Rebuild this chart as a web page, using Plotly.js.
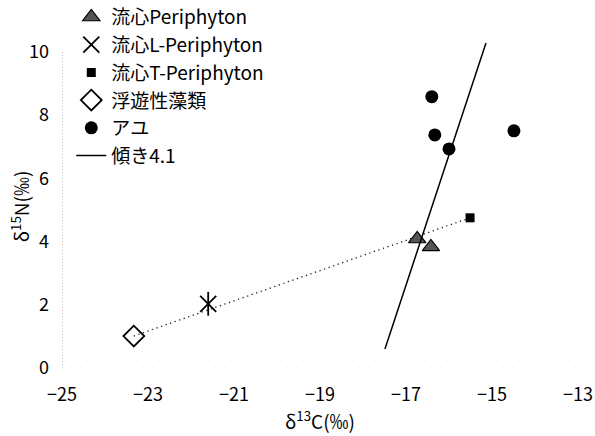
<!DOCTYPE html>
<html><head><meta charset="utf-8">
<script src="https://cdn.plot.ly/plotly-3.0.1.min.js"></script>
<style>body{margin:0;background:#fff}#c{width:595px;height:436px}</style>
</head><body><div id="c"></div>
<script>
const triX=[-16.74,-16.42], triY=[4.08,3.83];
const starX=[-21.6], starY=[2.03];
const sqX=[-15.51], sqY=[4.75];
const diaX=[-23.33], diaY=[1.01];
const ayuX=[-16.40,-16.33,-16.0,-14.49], ayuY=[8.58,7.37,6.93,7.5];
const slopeX=[-17.49,-15.14], slopeY=[0.6,10.28];
const dotX=[-23.33,-15.51], dotY=[1.01,4.75];
const names=['流心Periphyton','流心L-Periphyton','流心T-Periphyton','浮遊性藻類','アユ','傾き4.1'];
const xTicks=[-25,-23,-21,-19,-17,-15,-13];
const yTicks=[0,2,4,6,8,10];
const yTitle='δ<sup>15</sup>N(‰)';
const xTitle='δ<sup>13</sup>C(‰)';
const F='"Noto Sans CJK JP",sans-serif';
const LF='"Noto Sans CJK JP",sans-serif';
const traces=[
 {x:dotX,y:dotY,mode:'lines',line:{color:'#222',width:1.3,dash:'1.3px,3.5px'},showlegend:false,hoverinfo:'skip'},
 {x:triX,y:triY,mode:'markers',name:names[0],marker:{symbol:'triangle-up',size:15,color:'#555',line:{color:'#000',width:1.2}}},
 {x:starX,y:starY,mode:'markers',name:names[1],marker:{symbol:'x-thin-open',size:16,color:'#000',line:{color:'#000',width:1.8}}},
 {x:starX,y:starY,mode:'markers',showlegend:false,marker:{symbol:'line-ns-open',size:17,color:'#000',line:{color:'#000',width:1.8}}},
 {x:sqX,y:sqY,mode:'markers',name:names[2],marker:{symbol:'square',size:9,color:'#000'}},
 {x:diaX,y:diaY,mode:'markers',name:names[3],marker:{symbol:'diamond-open',size:16,color:'#000',line:{width:1.8}}},
 {x:ayuX,y:ayuY,mode:'markers',name:names[4],marker:{symbol:'circle',size:13,color:'#000'}},
 {x:slopeX,y:slopeY,mode:'lines',name:names[5],line:{color:'#000',width:1.5}}
];
const layout={
 width:595,height:436,paper_bgcolor:'#fff',plot_bgcolor:'#fff',
 margin:{l:62,r:17,t:36,b:68,autoexpand:false},
 font:{family:F,size:16,color:'#000'},
 xaxis:{range:[-25,-13],tickvals:xTicks,ticktext:xTicks.map(v=>v<0?'−'+Math.abs(v):String(v)),showgrid:false,zeroline:false,showline:false,ticks:'',ticklabelstandoff:14,ticklabeloverflow:'allow',tickfont:{size:18,family:F},automargin:false,
   title:{text:xTitle,font:{size:19,family:F},standoff:9}},
 yaxis:{range:[0,10.5],tickvals:yTicks,showgrid:false,zeroline:false,showline:false,ticks:'',ticklabelstandoff:12,tickfont:{size:18,family:F},automargin:false},
 annotations:[
  {text:yTitle,xref:'paper',yref:'paper',x:-0.081,y:0.488,xanchor:'center',yanchor:'middle',textangle:-90,showarrow:false,font:{size:19,family:F}}
 ],
 shapes:[
  {type:'line',xref:'x',yref:'y',x0:-25,x1:-25,y0:0,y1:10,line:{color:'#888',width:1,dash:'1px,2px'}},
  {type:'line',xref:'x',yref:'y',x0:-25,x1:-13,y0:0,y1:0,line:{color:'#ccc',width:1,dash:'1px,8px'}}
 ],
 legend:{x:0.018,y:1.114,xanchor:'left',yanchor:'top',bgcolor:'rgba(0,0,0,0)',font:{size:19,family:LF},tracegroupgap:0,itemwidth:30},
 showlegend:true
};
Plotly.newPlot('c',traces,layout,{staticPlot:true});
</script></body></html>
